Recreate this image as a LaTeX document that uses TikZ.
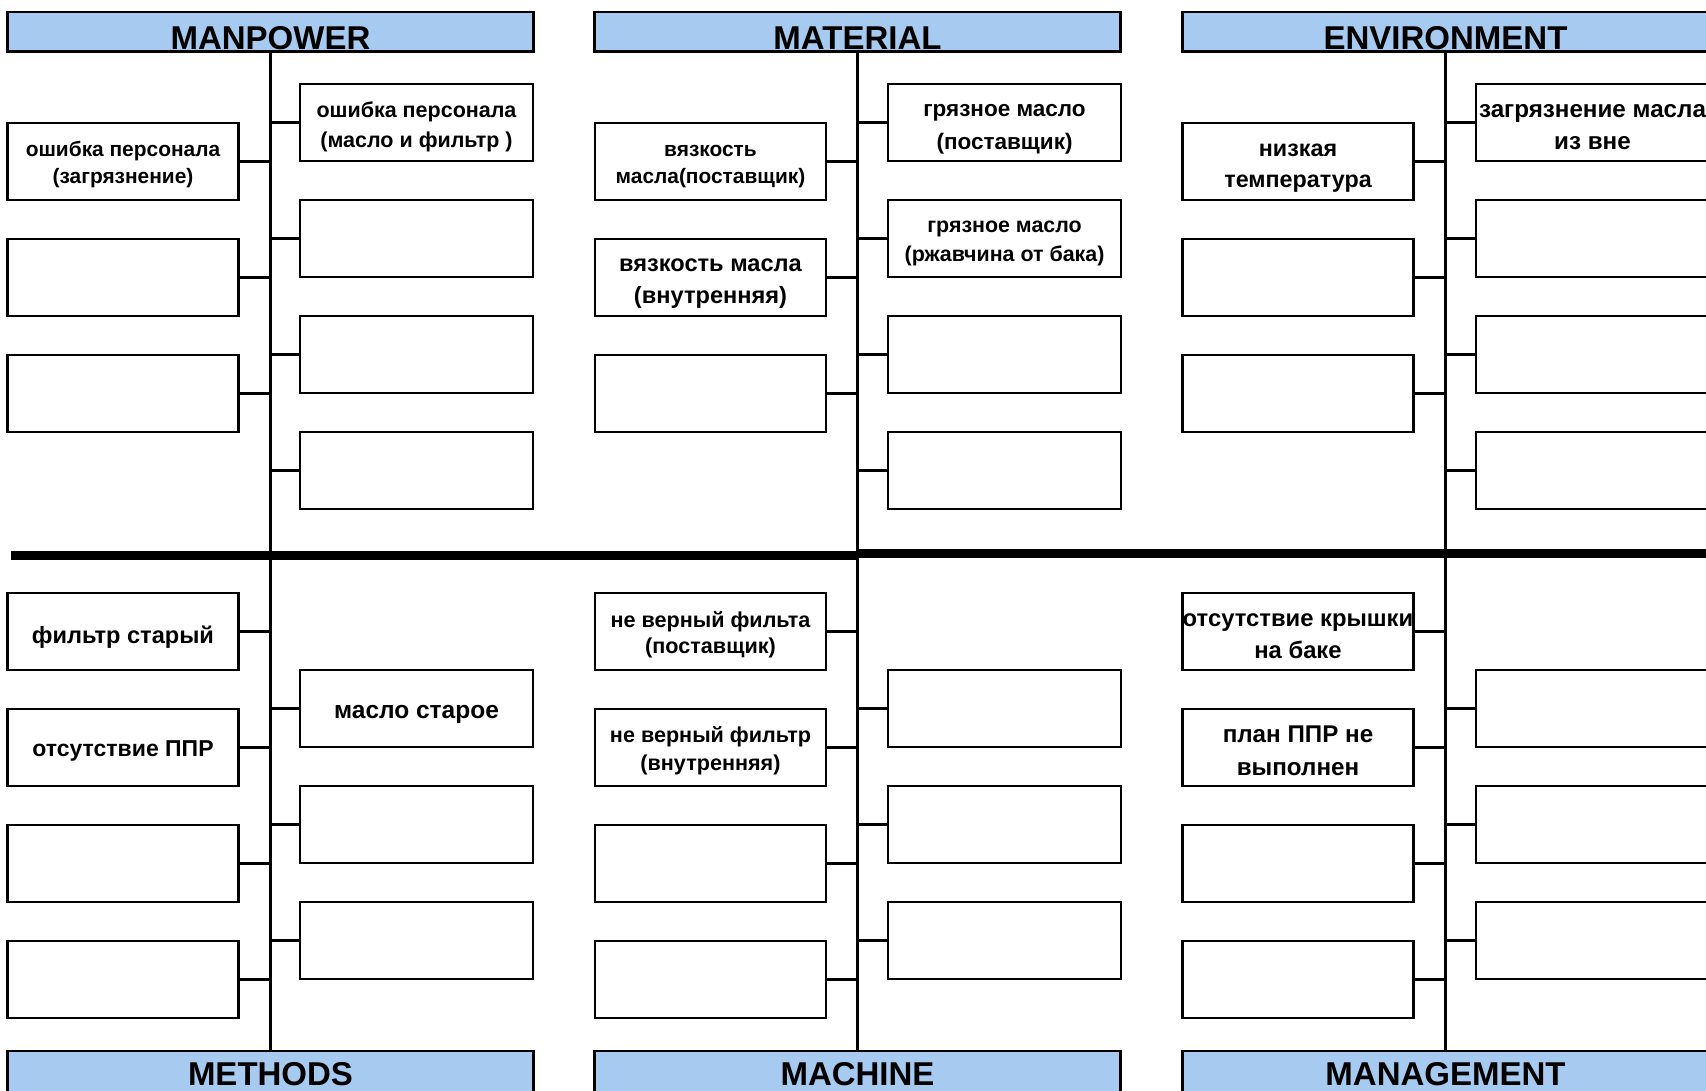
\documentclass[tikz,border=0pt]{standalone}
\usepackage{fontspec}
\setmainfont{Liberation Sans}
\definecolor{hdrblue}{RGB}{166,202,240}
\tikzset{
  cbox/.style={draw,line width=2.5pt,minimum width=231pt,minimum height=77pt,inner sep=0pt},
  ctext/.style={inner sep=0pt,align=center},
  fs/.style 2 args={font=\bfseries\fontsize{#1}{#2}\selectfont},
  hdr/.style={draw,line width=2.5pt,fill=hdrblue,minimum width=526pt,inner sep=0pt},
  hdrtxt/.style={font=\bfseries\fontsize{33}{33}\selectfont,inner sep=0pt,anchor=base},
  link/.style={line width=2.5pt},
  spine/.style={line width=2.5pt},
  fish/.style={line width=9pt}
}
\begin{document}
\begin{tikzpicture}[x=1pt,y=-1pt]
\useasboundingbox (0,0) rectangle (1706,1091);
\clip (0,0) rectangle (1706,1091);
% headers top
\node[hdr,minimum height=39.5pt] (hMP) at (270.5,31.75) {};
\node[hdr,minimum height=39.5pt] (hMA) at (857.5,31.75) {};
\node[hdr,minimum height=39.5pt] (hEN) at (1445.5,31.75) {};
\node[hdrtxt] (tMP) at ([yshift=3pt]hMP.south) {MANPOWER};
\node[hdrtxt] (tMA) at ([yshift=3pt]hMA.south) {MATERIAL};
\node[hdrtxt] (tEN) at ([yshift=3pt]hEN.south) {ENVIRONMENT};
% headers bottom
\node[hdr,minimum height=50pt] (hME) at (270.5,1076) {};
\node[hdr,minimum height=50pt] (hMC) at (857.5,1076) {};
\node[hdr,minimum height=50pt] (hMG) at (1445.5,1076) {};
\node[hdrtxt] (tME) at ([yshift=-36pt]hME.north) {METHODS};
\node[hdrtxt] (tMC) at ([yshift=-36pt]hMC.north) {MACHINE};
\node[hdrtxt] (tMG) at ([yshift=-36pt]hMG.north) {MANAGEMENT};
% spines
\draw[spine] (hMP.south) -- (hME.north);
\draw[spine] (hMA.south) -- (hMC.north);
\draw[spine] (hEN.south) -- (hMG.north);
% fish bone
\coordinate (fL) at (11,555);
\coordinate (fR) at (1712,553);
\draw[fish] (fL) -- (fL -| hMA.south);
\draw[fish] (fR -| hMA.south) -- (fR);
% ---- top section: MANPOWER
\node[cbox] (mpL1) at (123,161.5) {};
\node[cbox] (mpL2) at (123,277.5) {};
\node[cbox] (mpL3) at (123,393.5) {};
\node[cbox,minimum width=233pt] (mpR1) at (416.5,122.5) {};
\node[cbox,minimum width=233pt] (mpR2) at (416.5,238.5) {};
\node[cbox,minimum width=233pt] (mpR3) at (416.5,354.5) {};
\node[cbox,minimum width=233pt] (mpR4) at (416.5,470.5) {};
% MATERIAL
\node[cbox] (maL1) at (710.5,161.5) {};
\node[cbox] (maL2) at (710.5,277.5) {};
\node[cbox] (maL3) at (710.5,393.5) {};
\node[cbox,minimum width=233pt] (maR1) at (1004.5,122.5) {};
\node[cbox,minimum width=233pt] (maR2) at (1004.5,238.5) {};
\node[cbox,minimum width=233pt] (maR3) at (1004.5,354.5) {};
\node[cbox,minimum width=233pt] (maR4) at (1004.5,470.5) {};
% ENVIRONMENT
\node[cbox] (enL1) at (1298,161.5) {};
\node[cbox] (enL2) at (1298,277.5) {};
\node[cbox] (enL3) at (1298,393.5) {};
\node[cbox,minimum width=233pt] (enR1) at (1592.5,122.5) {};
\node[cbox,minimum width=233pt] (enR2) at (1592.5,238.5) {};
\node[cbox,minimum width=233pt] (enR3) at (1592.5,354.5) {};
\node[cbox,minimum width=233pt] (enR4) at (1592.5,470.5) {};
% ---- bottom section: METHODS
\node[cbox] (meL1) at (123,631.5) {};
\node[cbox] (meL2) at (123,747.5) {};
\node[cbox] (meL3) at (123,863.5) {};
\node[cbox] (meL4) at (123,979.5) {};
\node[cbox,minimum width=233pt] (meR1) at (416.5,708.5) {};
\node[cbox,minimum width=233pt] (meR2) at (416.5,824.5) {};
\node[cbox,minimum width=233pt] (meR3) at (416.5,940.5) {};
% MACHINE
\node[cbox] (mcL1) at (710.5,631.5) {};
\node[cbox] (mcL2) at (710.5,747.5) {};
\node[cbox] (mcL3) at (710.5,863.5) {};
\node[cbox] (mcL4) at (710.5,979.5) {};
\node[cbox,minimum width=233pt] (mcR1) at (1004.5,708.5) {};
\node[cbox,minimum width=233pt] (mcR2) at (1004.5,824.5) {};
\node[cbox,minimum width=233pt] (mcR3) at (1004.5,940.5) {};
% MANAGEMENT
\node[cbox] (mgL1) at (1298,631.5) {};
\node[cbox] (mgL2) at (1298,747.5) {};
\node[cbox] (mgL3) at (1298,863.5) {};
\node[cbox] (mgL4) at (1298,979.5) {};
\node[cbox,minimum width=233pt] (mgR1) at (1592.5,708.5) {};
\node[cbox,minimum width=233pt] (mgR2) at (1592.5,824.5) {};
\node[cbox,minimum width=233pt] (mgR3) at (1592.5,940.5) {};
% ---- box texts
\node[ctext,fs={20.9}{27}] (mpL1t) at ([yshift=-3.5pt]mpL1.center) {ошибка персонала\\(загрязнение)};
\node[ctext,fs={21.5}{30.5}] (mpR1t) at ([yshift=-4.5pt]mpR1.center) {ошибка персонала\\(масло и фильтр )};
\node[ctext,fs={20.9}{27}] (maL1t) at ([yshift=-5pt]maL1.center) {вязкость\\масла(поставщик)};
\node[ctext,fs={23.6}{32.6}] (maL2t) at ([yshift=-6pt]maL2.center) {вязкость масла\\(внутренняя)};
\node[ctext,fs={22.5}{32.6}] (maR1t) at ([yshift=-7pt]maR1.center) {грязное масло\\(поставщик)};
\node[ctext,fs={21.4}{29.4}] (maR2t) at ([yshift=-5pt]maR2.center) {грязное масло\\(ржавчина от бака)};
\node[ctext,fs={23.3}{31.5}] (enL1t) at ([yshift=-6.5pt]enL1.center) {низкая\\температура};
\node[ctext,fs={24.2}{32.6}] (enR1t) at ([yshift=-4.5pt]enR1.center) {загрязнение масла\\из вне};
\node[ctext,fs={23.6}{30}] (meL1t) at ([yshift=-5.5pt]meL1.center) {фильтр старый};
\node[ctext,fs={23}{30}] (meL2t) at ([yshift=-3.5pt]meL2.center) {отсутствие ППР};
\node[ctext,fs={24.5}{30}] (meR1t) at ([yshift=-6pt]meR1.center) {масло старое};
\node[ctext,fs={21.6}{26.5}] (mcL1t) at ([yshift=-3pt]mcL1.center) {не верный фильта\\(поставщик)};
\node[ctext,fs={21.6}{28}] (mcL2t) at ([yshift=-3pt]mcL2.center) {не верный фильтр\\(внутренняя)};
\node[ctext,fs={23.8}{32.6}] (mgL1t) at ([yshift=-4.5pt]mgL1.center) {отсутствие крышки\\на баке};
\node[ctext,fs={24.2}{32.6}] (mgL2t) at ([yshift=-3pt]mgL2.center) {план ППР не\\выполнен};
% connectors: left boxes
\foreach \b/\h in {mpL1/hMP,mpL2/hMP,mpL3/hMP,maL1/hMA,maL2/hMA,maL3/hMA,enL1/hEN,enL2/hEN,enL3/hEN,
  meL1/hME,meL2/hME,meL3/hME,meL4/hME,mcL1/hMC,mcL2/hMC,mcL3/hMC,mcL4/hMC,mgL1/hMG,mgL2/hMG,mgL3/hMG,mgL4/hMG}
  \draw[link] (\b.east) -- (\b.east -| \h.south);
% connectors: right boxes
\foreach \b/\h in {mpR1/hMP,mpR2/hMP,mpR3/hMP,mpR4/hMP,maR1/hMA,maR2/hMA,maR3/hMA,maR4/hMA,enR1/hEN,enR2/hEN,enR3/hEN,enR4/hEN,
  meR1/hME,meR2/hME,meR3/hME,mcR1/hMC,mcR2/hMC,mcR3/hMC,mgR1/hMG,mgR2/hMG,mgR3/hMG}
  \draw[link] (\b.west) -- (\b.west -| \h.south);
\end{tikzpicture}
\end{document}
